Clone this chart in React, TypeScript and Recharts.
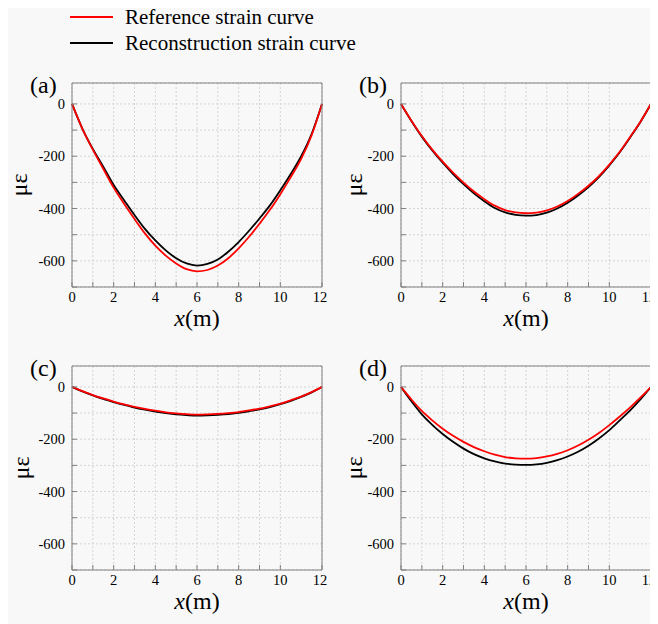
import { LineChart, Line, XAxis, YAxis, CartesianGrid } from "recharts";

const xs = [0, 0.5, 1, 1.5, 2, 2.5, 3, 3.5, 4, 4.5, 5, 5.5, 6, 6.5, 7, 7.5, 8, 8.5, 9, 9.5, 10, 10.5, 11, 11.5, 12];

// (a)
const refA = [0, -95, -175, -248, -320, -382, -440, -495, -542, -580, -610, -632, -640, -635, -618, -590, -552, -508, -458, -405, -345, -280, -210, -120, 0];
const recA = [0, -95, -172, -240, -310, -368, -425, -478, -522, -560, -590, -610, -618, -612, -595, -565, -528, -485, -438, -388, -330, -268, -200, -115, 0];
// (b)
const refB = [0, -64, -123, -175, -221, -263, -301, -335, -364, -389, -406, -415, -418, -416, -407, -392, -371, -344, -313, -276, -232, -183, -126, -67, 0];
const recB = [0, -65, -125, -178, -225, -268, -307, -342, -372, -398, -415, -424, -427, -425, -416, -400, -378, -350, -318, -280, -235, -185, -128, -68, 0];
// (c)
const refC = [0, -16, -31, -44, -56, -67, -76, -84, -91, -97, -101, -104, -106, -105, -103, -100, -96, -90, -83, -74, -64, -51, -37, -20, 0];
const recC = [0, -17, -32, -46, -58, -69, -79, -87, -94, -100, -105, -108, -110, -109, -107, -104, -99, -93, -86, -77, -66, -53, -38, -21, 0];
// (d)
const refD = [0, -48, -92, -128, -160, -187, -210, -230, -246, -259, -268, -273, -274, -272, -266, -256, -242, -224, -202, -176, -146, -113, -78, -40, 0];
const recD = [0, -55, -105, -145, -180, -210, -236, -257, -273, -285, -293, -297, -298, -296, -290, -280, -266, -248, -225, -197, -165, -128, -90, -47, 0];

const xTicks = [0, 1, 2, 3, 4, 5, 6, 7, 8, 9, 10, 11, 12];
const yTicks = [-700, -600, -500, -400, -300, -200, -100, 0];

const FONT = '"Liberation Serif", "Times New Roman", serif';
const AXIS = "#808080";

const XTitle = (props: any) => {
  const { x, y, width } = props.viewBox;
  return (
    <text x={x + width / 2} y={y + 39} textAnchor="middle" fontSize={24} fontFamily={FONT} fill="#000">
      <tspan fontStyle="italic">x</tspan>(m)
    </text>
  );
};

const XTick = ({ x, y, payload }: any) =>
  payload.value % 2 === 0 ? (
    <text x={x} y={y + 12} textAnchor="middle" fontSize={14.5} style={{ fontFamily: FONT }} fill="#000">
      {payload.value}
    </text>
  ) : null;

const YTick = ({ x, y, payload }: any) =>
  payload.value % 200 === 0 ? (
    <text x={x} y={y + 5} textAnchor="end" fontSize={14.5} style={{ fontFamily: FONT }} fill="#000">
      {payload.value}
    </text>
  ) : null;

const Panel = ({ tag, refS, recS, left, top, yOff }: any) => {
  const rows = xs.map((x, i) => ({ x, ref: refS[i], rec: recS[i] }));
  return (
    <div style={{ position: "absolute", left, top }}>
      <LineChart width={320} height={262} data={rows} margin={{ top: 12, right: 5, bottom: 0, left: 0 }}>
        <CartesianGrid stroke="#d4d4d4" strokeDasharray="2 2" />
        <XAxis
          dataKey="x"
          type="number"
          domain={[0, 12]}
          ticks={xTicks}
          height={45}
          stroke={AXIS}
          tickSize={-5}
          tickMargin={8}
          tick={<XTick />}
          label={<XTitle />}
        />
        <XAxis xAxisId="top" orientation="top" type="number" domain={[0, 12]} ticks={xTicks} height={1} stroke={AXIS} tickSize={-5} tick={false} />
        <YAxis
          type="number"
          domain={[-700, 80]}
          ticks={yTicks}
          width={64}
          stroke={AXIS}
          tickSize={-5}
          tickMargin={12}
          tick={<YTick />}
        />
        <YAxis yAxisId="right" orientation="right" type="number" domain={[-700, 80]} ticks={yTicks} width={1} stroke={AXIS} tickSize={-5} tick={false} />
        <Line dataKey="rec" type="monotone" stroke="#000" strokeWidth={1.8} dot={false} isAnimationActive={false} />
        <Line dataKey="ref" type="monotone" stroke="#ff0000" strokeWidth={1.8} dot={false} isAnimationActive={false} />
      </LineChart>
      <div style={{ position: "absolute", left: 64 - 42, top: 3, fontFamily: FONT, fontSize: 24, lineHeight: "24px" }}>{tag}</div>
      <svg style={{ position: "absolute", left: 0, top: 0, overflow: "visible" }} width={40} height={230}>
        <text
          x={64 - yOff}
          y={115}
          transform={`rotate(-90, ${64 - yOff}, 115)`}
          textAnchor="middle"
          dominantBaseline="central"
          fontSize={24}
          fontFamily={FONT}
          fill="#000"
        >
          με
        </text>
      </svg>
    </div>
  );
};

const App = () => {
  return (
    <div style={{ position: "relative", width: 650, height: 616, background: "#f8f8f8", fontFamily: FONT }}>
      <svg style={{ position: "absolute", left: 0, top: 0, overflow: "visible" }} width={400} height={50}>
        <line x1={62} x2={105} y1={9} y2={9} stroke="#ff0000" strokeWidth={1.8} />
        <text x={117} y={9} dominantBaseline="central" fontSize={21} fontFamily={FONT} fill="#000">
          Reference strain curve
        </text>
        <line x1={62} x2={105} y1={35} y2={35} stroke="#000" strokeWidth={1.8} />
        <text x={117} y={35} dominantBaseline="central" fontSize={21} fontFamily={FONT} fill="#000">
          Reconstruction strain curve
        </text>
      </svg>
      <Panel tag="(a)" refS={refA} recS={recA} left={0} top={62} yOff={53} />
      <Panel tag="(b)" refS={refB} recS={recB} left={329} top={62} yOff={47} />
      <Panel tag="(c)" refS={refC} recS={recC} left={0} top={345} yOff={51} />
      <Panel tag="(d)" refS={refD} recS={recD} left={329} top={345} yOff={47} />
    </div>
  );
};

export default App;
